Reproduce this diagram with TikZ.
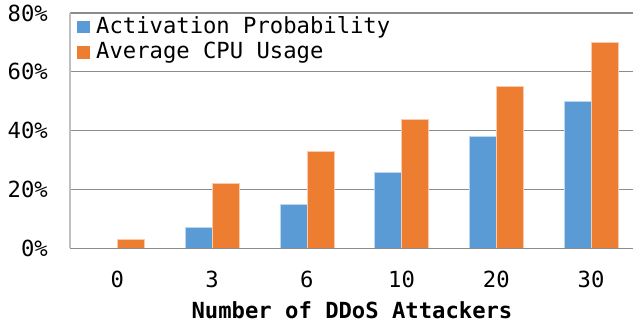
\documentclass[tikz,border=0pt]{standalone}
\usepackage{fontspec}
\newfontfamily\chartmono{DejaVu Sans Mono}
\definecolor{barblue}{HTML}{5B9BD5}
\definecolor{barorange}{HTML}{ED7D31}
\definecolor{gridgrey}{HTML}{8C8C8C}
\definecolor{axisgrey}{HTML}{BFBFBF}
\begin{document}
\begin{tikzpicture}[x=1pt,y=1pt,
  lbl/.style={font=\chartmono\fontsize{22.2}{25}\selectfont, inner sep=0pt},
  ttl/.style={font=\chartmono\bfseries\fontsize{22.2}{25}\selectfont, inner sep=0pt},
  gridln/.style={draw=gridgrey, line width=1.2pt},
  bluebar/.style={fill=barblue, draw=barblue!40!white, line width=0.6pt},
  orangebar/.style={fill=barorange, draw=barorange!40!white, line width=0.6pt}]
\useasboundingbox (0,0) rectangle (633,326);
% grid
\foreach \v in {20,40,60,80}{
  \draw[gridln] (70,{77.7+2.94*\v}) -- (633,{77.7+2.94*\v});
}
\draw[draw=axisgrey, line width=1.2pt] (70,77.7) -- (70,312.9);
% bars
\foreach \i/\b/\o/\c in {0/0/3/0,1/7/22/3,2/15/33/6,3/26/44/10,4/38/55/20,5/50/70/30}{
  \pgfmathsetmacro{\cx}{117.3+94.75*\i}
  \ifnum\b>0
    \draw[bluebar] ({\cx-27},77.7) rectangle (\cx,{77.7+2.94*\b});
  \fi
  \draw[orangebar] (\cx,77.7) rectangle ({\cx+27},{77.7+2.94*\o});
  \node[lbl] (cat\i) at (\cx,47) {\c};
}
\draw[gridln] (70,77.7) -- (633,77.7);
% y tick labels
\foreach \v in {0,20,40,60,80}{
  \node[lbl, anchor=east] (yt\v) at (48,{77.7+2.94*\v}) {\v\%};
}
% legend
\node[fill=barblue, minimum size=12.5pt, inner sep=0pt] (lb) at (83.5,299) {};
\node[lbl, anchor=west] (lbt) at (96,299) {Activation Probability};
\node[fill=barorange, minimum size=12.5pt, inner sep=0pt] (lo) at (83.5,273.5) {};
\node[lbl, anchor=west] (lot) at (96,273.5) {Average CPU Usage};
% axis title
\node[ttl] (xtitle) at (352,16) {Number of DDoS Attackers};
\end{tikzpicture}
\end{document}
